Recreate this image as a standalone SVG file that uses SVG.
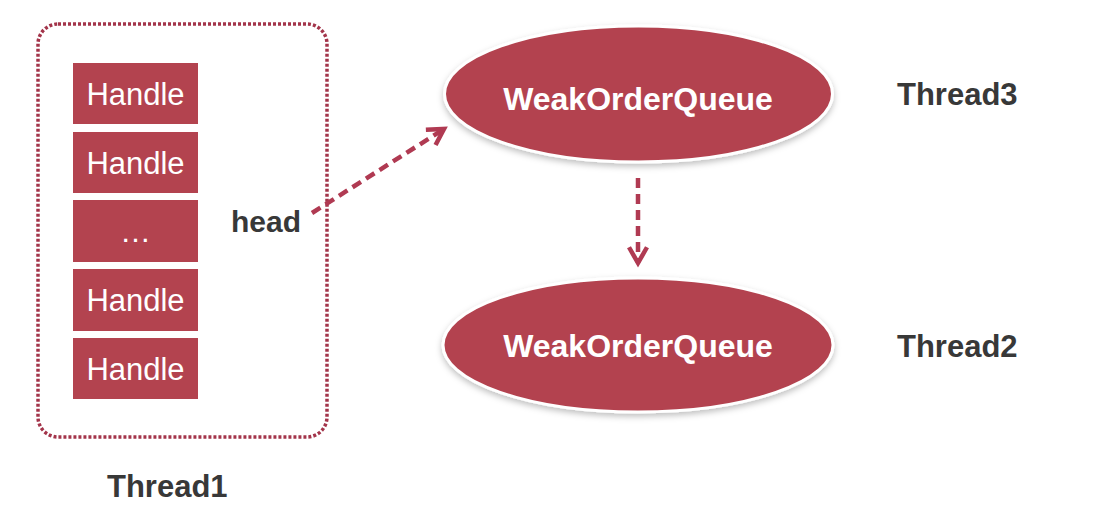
<svg xmlns="http://www.w3.org/2000/svg" width="1097" height="531" viewBox="0 0 1097 531">
  <defs>
    <style>
      .box { fill: #b3434f; }
      .btxt { font-family: "Liberation Sans", Arial, sans-serif; font-size: 31px; fill: #ffffff; text-anchor: middle; }
      .oval { fill: #b3434f; stroke: #ffffff; stroke-width: 3; filter: url(#shadow); }
      .otxt { font-family: "Liberation Sans", Arial, sans-serif; font-weight: bold; font-size: 32px; fill: #ffffff; text-anchor: middle; }
      .lbl { font-family: "Liberation Sans", Arial, sans-serif; font-weight: bold; font-size: 31px; fill: #383838; }
      .conn { fill: none; stroke: #b03a52; stroke-width: 4.5; stroke-dasharray: 10 6; }
      .frame { fill: none; stroke: #a3344a; stroke-width: 3.5; stroke-dasharray: 3 2; }
    </style>
    <filter id="shadow" x="-10%" y="-20%" width="120%" height="150%">
      <feDropShadow dx="0" dy="3" stdDeviation="3" flood-color="#000000" flood-opacity="0.25"/>
    </filter>
    <marker id="arr" viewBox="0 0 10 10" refX="8" refY="5" markerWidth="5" markerHeight="5" orient="auto" markerUnits="strokeWidth">
      <path d="M1,1 L8,5 L1,9" fill="none" stroke="#b03a52" stroke-width="2"/>
    </marker>
  </defs>
  <rect width="1097" height="531" fill="#ffffff"/>

  <g id="thread1">
    <rect class="frame" x="38" y="24" width="289" height="413" rx="20" ry="20"/>
    <text class="lbl" x="107" y="497">Thread1</text>
  </g>

  <g id="handle1">
    <rect class="box" x="73" y="63" width="125" height="61"/>
    <text class="btxt" x="135.5" y="105">Handle</text>
  </g>
  <g id="handle2">
    <rect class="box" x="73" y="132" width="125" height="61"/>
    <text class="btxt" x="135.5" y="174">Handle</text>
  </g>
  <g id="handle3">
    <rect class="box" x="73" y="200" width="125" height="62"/>
    <text class="btxt" x="135.5" y="242">…</text>
  </g>
  <g id="handle4">
    <rect class="box" x="73" y="269" width="125" height="62"/>
    <text class="btxt" x="135.5" y="311">Handle</text>
  </g>
  <g id="handle5">
    <rect class="box" x="73" y="338" width="125" height="61"/>
    <text class="btxt" x="135.5" y="380">Handle</text>
  </g>

  <g id="head">
    <text class="lbl" x="231" y="232" style="font-size:30px">head</text>
  </g>

  <g id="queue3">
    <ellipse class="oval" cx="638.5" cy="94" rx="194" ry="68"/>
    <text class="otxt" x="638" y="110">WeakOrderQueue</text>
  </g>
  <g id="thread3">
    <text class="lbl" x="897" y="105">Thread3</text>
  </g>

  <g id="queue2">
    <ellipse class="oval" cx="638" cy="345" rx="195" ry="67"/>
    <text class="otxt" x="638" y="357">WeakOrderQueue</text>
  </g>
  <g id="thread2">
    <text class="lbl" x="897" y="357">Thread2</text>
  </g>

  <g id="connectors">
    <line class="conn" x1="312" y1="213" x2="444" y2="129" marker-end="url(#arr)"/>
    <line class="conn" x1="638" y1="178" x2="638" y2="263" marker-end="url(#arr)"/>
  </g>
</svg>
